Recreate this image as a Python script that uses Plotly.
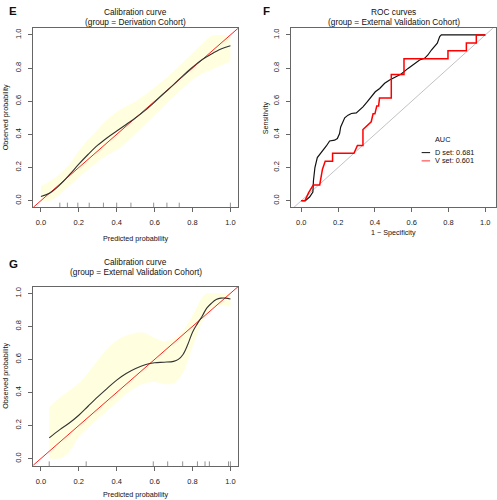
import plotly.graph_objects as go

# ---------------- data ----------------
# Panel E: calibration, derivation cohort
E_x = [0, 0.05, 0.1, 0.15, 0.2, 0.25, 0.3, 0.35, 0.4, 0.45, 0.5, 0.55, 0.6, 0.65, 0.7, 0.75, 0.8, 0.85, 0.9, 0.95, 1.0]
E_obs = [0.025, 0.048, 0.095, 0.155, 0.22, 0.28, 0.335, 0.38, 0.42, 0.46, 0.50, 0.545, 0.595, 0.648, 0.70, 0.755, 0.805, 0.85, 0.885, 0.915, 0.935]
E_upper = [0.088, 0.12, 0.163, 0.22, 0.30, 0.37, 0.43, 0.49, 0.535, 0.57, 0.60, 0.64, 0.685, 0.73, 0.78, 0.835, 0.89, 0.945, 0.995, 1.0, 1.0]
E_lower = [0.0, 0.0, 0.04, 0.09, 0.14, 0.19, 0.235, 0.275, 0.305, 0.35, 0.405, 0.46, 0.515, 0.57, 0.625, 0.68, 0.73, 0.765, 0.79, 0.815, 0.84]
E_rug = [0.10, 0.14, 0.195, 0.255, 0.33, 0.40, 0.475, 0.595, 0.665, 0.73, 1.0]

# Panel F: ROC curves
D_fpr = [0.0, 0.022, 0.045, 0.063, 0.066, 0.074, 0.087, 0.11, 0.136, 0.154, 0.181, 0.196, 0.208, 0.214, 0.221, 0.236, 0.254, 0.272, 0.299, 0.317, 0.335, 0.359, 0.380, 0.402, 0.426, 0.453, 0.480, 0.507, 0.543, 0.580, 0.616, 0.643, 0.670, 0.688, 0.707, 0.725, 0.739, 0.752, 0.761, 1.0]
D_tpr = [0.0, 0.0, 0.022, 0.052, 0.12, 0.20, 0.26, 0.29, 0.33, 0.36, 0.365, 0.375, 0.405, 0.445, 0.466, 0.50, 0.516, 0.526, 0.53, 0.546, 0.566, 0.597, 0.627, 0.657, 0.677, 0.708, 0.728, 0.744, 0.764, 0.798, 0.825, 0.849, 0.859, 0.879, 0.909, 0.929, 0.95, 0.99, 1.0, 1.0]
V_fpr = [0.0, 0.02, 0.04, 0.065, 0.1, 0.115, 0.13, 0.17, 0.17, 0.286, 0.305, 0.335, 0.335, 0.38, 0.39, 0.40, 0.41, 0.42, 0.425, 0.489, 0.489, 0.558, 0.558, 0.797, 0.797, 0.897, 0.897, 0.951, 0.951, 1.0]
V_tpr = [0.0, 0.0, 0.048, 0.095, 0.095, 0.19, 0.238, 0.238, 0.286, 0.286, 0.333, 0.333, 0.429, 0.476, 0.524, 0.524, 0.571, 0.571, 0.619, 0.619, 0.762, 0.762, 0.857, 0.857, 0.905, 0.905, 0.952, 0.952, 1.0, 1.0]
ref_line = [-0.2, 1.2]
auc_labels = ["D set: 0.681", "V set: 0.601"]

# Panel G: calibration, external validation cohort
G_x = [0.044, 0.1, 0.15, 0.2, 0.25, 0.3, 0.35, 0.4, 0.45, 0.5, 0.55, 0.6, 0.65, 0.7, 0.725, 0.75, 0.775, 0.8, 0.825, 0.85, 0.875, 0.9, 0.925, 0.95, 0.975, 1.0]
G_obs = [0.125, 0.175, 0.215, 0.262, 0.318, 0.373, 0.425, 0.475, 0.515, 0.545, 0.568, 0.58, 0.583, 0.588, 0.60, 0.63, 0.69, 0.765, 0.815, 0.86, 0.91, 0.94, 0.962, 0.971, 0.971, 0.965]
G_band_x = [0.044, 0.1, 0.15, 0.2, 0.25, 0.3, 0.35, 0.4, 0.45, 0.5, 0.55, 0.6, 0.65, 0.7, 0.75, 0.8, 0.85, 0.875, 0.9, 0.95, 1.0]
G_upper = [0.31, 0.37, 0.41, 0.455, 0.52, 0.595, 0.665, 0.715, 0.745, 0.76, 0.76, 0.73, 0.71, 0.725, 0.775, 0.865, 0.975, 1.0, 1.0, 1.0, 1.0]
G_lower = [0.0, 0.0, 0.04, 0.13, 0.19, 0.24, 0.29, 0.34, 0.39, 0.43, 0.455, 0.465, 0.45, 0.455, 0.52, 0.675, 0.825, 0.87, 0.905, 0.93, 0.915]
G_rug = [0.044, 0.239, 0.593, 0.669, 0.748, 0.826, 0.866, 0.889, 0.99, 1.0]

tick_vals = [0, 0.2, 0.4, 0.6, 0.8, 1.0]
tick_text = ["0.0", "0.2", "0.4", "0.6", "0.8", "1.0"]

# ---------------- figure ----------------
W, H = 497, 500
FONT = "Liberation Sans, Arial, Helvetica, sans-serif"
BAND = "#FFFFE0"
fig = go.Figure()


def rug(xs, y0, length):
    rx, ry = [], []
    for v in xs:
        rx += [v, v, None]
        ry += [y0, y0 + length, None]
    return rx, ry


def calib(xref, yref, bx, up, lo, cx, cy, rugx, ybottom):
    fig.add_trace(go.Scatter(x=bx, y=lo, mode="lines", line=dict(width=0, shape="spline", smoothing=0.8),
                             xaxis=xref, yaxis=yref, hoverinfo="skip", showlegend=False))
    fig.add_trace(go.Scatter(x=bx, y=up, mode="lines", line=dict(width=0, shape="spline", smoothing=0.8),
                             fill="tonexty", fillcolor=BAND,
                             xaxis=xref, yaxis=yref, hoverinfo="skip", showlegend=False))
    fig.add_trace(go.Scatter(x=ref_line, y=ref_line, mode="lines", line=dict(color="#FF2020", width=1),
                             xaxis=xref, yaxis=yref, showlegend=False))
    fig.add_trace(go.Scatter(x=cx, y=cy, mode="lines", line=dict(color="#333333", width=1.1, shape="spline"),
                             xaxis=xref, yaxis=yref, showlegend=False))
    rx, ry = rug(rugx, ybottom, 0.028)
    fig.add_trace(go.Scatter(x=rx, y=ry, mode="lines", line=dict(color="#777777", width=0.8),
                             xaxis=xref, yaxis=yref, showlegend=False, hoverinfo="skip"))


calib("x", "y", E_x, E_upper, E_lower, E_x, E_obs, E_rug, -0.04)
calib("x3", "y3", G_band_x, G_upper, G_lower, G_x, G_obs, G_rug, -0.045)

# ROC
fig.add_trace(go.Scatter(x=ref_line, y=ref_line, mode="lines", line=dict(color="#BBBBBB", width=0.9),
                         xaxis="x2", yaxis="y2", showlegend=False))
fig.add_trace(go.Scatter(x=D_fpr, y=D_tpr, mode="lines", line=dict(color="#111111", width=1.2),
                         xaxis="x2", yaxis="y2", showlegend=False))
fig.add_trace(go.Scatter(x=V_fpr, y=V_tpr, mode="lines", line=dict(color="#FF0000", width=1.5),
                         xaxis="x2", yaxis="y2", showlegend=False))


def px_x(p):
    return p / W


def px_y(p):
    return 1 - p / H


axis_common = dict(showline=True, mirror=True, linecolor="#666666", linewidth=1,
                   ticks="outside", ticklen=4, tickcolor="#666666", tickwidth=1,
                   showgrid=False, zeroline=False, tickvals=tick_vals, ticktext=tick_text,
                   automargin=False, ticklabelstandoff=4,
                   tickfont=dict(family=FONT, size=7.5, color="#222222"))

E_dom_x = [px_x(33.3), px_x(238)]
F_dom_x = [px_x(290.7), px_x(496)]
top_dom_y = [px_y(207.3), px_y(28.3)]
bot_dom_y = [px_y(466), px_y(286.7)]

fig.update_layout(
    template="none",
    width=W, height=H, margin=dict(l=0, r=0, t=0, b=0, autoexpand=False),
    paper_bgcolor="white", plot_bgcolor="white", showlegend=False,
    font=dict(family=FONT, color="#222222"),
    xaxis=dict(domain=E_dom_x, range=[-0.04, 1.04], anchor="y", **axis_common),
    yaxis=dict(domain=top_dom_y, range=[-0.04, 1.04], anchor="x", tickangle=-90, **axis_common),
    xaxis2=dict(domain=F_dom_x, range=[-0.0576, 1.058], anchor="y2", **axis_common),
    yaxis2=dict(domain=top_dom_y, range=[-0.04, 1.04], anchor="x2", tickangle=-90, **axis_common),
    xaxis3=dict(domain=E_dom_x, range=[-0.04, 1.04], anchor="y3", **axis_common),
    yaxis3=dict(domain=bot_dom_y, range=[-0.045, 1.04], anchor="x3", tickangle=-90, **axis_common),
)

ann = []


def text(x, y, s, size, bold=False, angle=0, xanchor="center"):
    ann.append(dict(x=x, y=y, xref="paper", yref="paper", text=("<b>%s</b>" % s) if bold else s,
                    showarrow=False, xanchor=xanchor, yanchor="middle", textangle=angle,
                    font=dict(family=FONT, size=size, color="#111111")))


# panel letters
text(px_x(13), px_y(10.5), "E", 11.5, bold=True)
text(px_x(266.5), px_y(10.5), "F", 11.5, bold=True)
text(px_x(13.5), px_y(264), "G", 11.5, bold=True)
# titles
text(px_x(135.6), px_y(12.3), "Calibration curve", 8.3)
text(px_x(135.6), px_y(22.3), "(group = Derivation Cohort)", 8.3)
text(px_x(393.6), px_y(12.3), "ROC curves", 8.3)
text(px_x(393.6), px_y(22.3), "(group = External Validation Cohort)", 8.3)
text(px_x(135.6), px_y(262.3), "Calibration curve", 8.3)
text(px_x(135.6), px_y(272.3), "(group = External Validation Cohort)", 8.3)
# axis titles
text(px_x(135.6), px_y(238), "Predicted probability", 7.2)
text(px_x(5.5), px_y(117.8), "Observed probability", 7.2, angle=-90)
text(px_x(393.6), px_y(233), "1 \u2212 Specificity", 7.2)
text(px_x(265.5), px_y(117.8), "Sensitivity", 7.2, angle=-90)
text(px_x(135.6), px_y(494.3), "Predicted probability", 7.2)
text(px_x(5.5), px_y(376.3), "Observed probability", 7.2, angle=-90)

# ROC legend
leg_x0, leg_x1, leg_tx = 0.654, 0.70, 0.717
leg_y = [0.29, 0.24]
leg_col = ["#111111", "#FF3030"]
ann.append(dict(x=leg_tx, y=0.369, xref="x2", yref="y2", text="AUC", showarrow=False,
                xanchor="left", yanchor="middle", font=dict(family=FONT, size=7.3, color="#111111")))
shapes = []
for lab, yy, col in zip(auc_labels, leg_y, leg_col):
    ann.append(dict(x=leg_tx, y=yy, xref="x2", yref="y2", text=lab, showarrow=False,
                    xanchor="left", yanchor="middle", font=dict(family=FONT, size=7.3, color="#111111")))
    shapes.append(dict(type="line", xref="x2", yref="y2", x0=leg_x0, x1=leg_x1, y0=yy, y1=yy,
                       line=dict(color=col, width=1)))

fig.update_layout(annotations=ann, shapes=shapes)
fig.write_html("out.html", config={"displayModeBar": False, "staticPlot": True},
               post_script="document.body.style.margin='0px';document.body.style.padding='0px';document.body.style.overflow='hidden';")
